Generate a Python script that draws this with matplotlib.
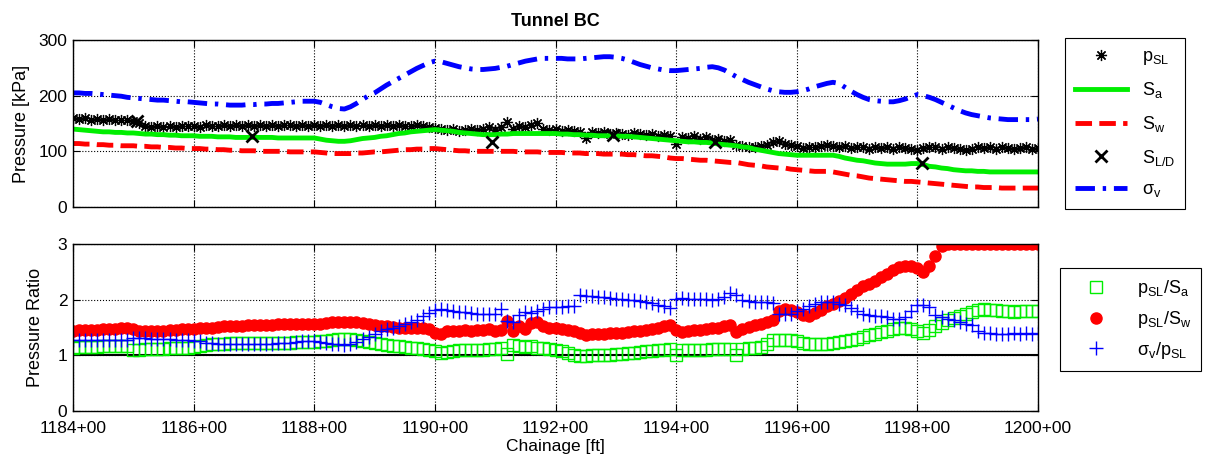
import matplotlib
matplotlib.use('Agg')
import matplotlib.pyplot as plt
import numpy as np

plt.rcParams['font.family'] = ['Liberation Sans', 'DejaVu Sans']
plt.rcParams['mathtext.fontset'] = 'custom'
plt.rcParams['mathtext.rm'] = 'Liberation Sans'
plt.rcParams['mathtext.it'] = 'Liberation Sans'

# chainage stations (in 100 ft units), every 10 ft
station = np.round(np.arange(1184.0, 1200.05, 0.1), 1)

p_sl = [160, 158, 159, 157, 158, 156, 158, 157, 156, 157,
        154, 150, 146, 144, 145, 143, 145, 144, 146, 145,
        146, 144, 147, 145, 146, 148, 146, 147, 145, 147,
        146, 148, 146, 147, 145, 148, 147, 146, 148, 146,
        147, 145, 148, 146, 147, 145, 148, 146, 147, 145,
        147, 146, 148, 145, 147, 146, 145, 147, 146, 144,
        142, 140, 138, 140, 137, 139, 141, 138, 140, 143,
        138, 144, 152, 141, 146, 143, 147, 150, 141, 139,
        140, 137, 139, 136, 134, 124, 135, 133, 134, 131,
        133, 132, 130, 133, 131, 129, 131, 128, 130, 127,
        114, 125, 124, 127, 123, 125, 121, 123, 119, 120,
        112, 110, 108, 107, 109, 111, 117, 118, 114, 111,
        110, 106, 108, 107, 109, 112, 110, 108, 109, 106,
        108, 107, 105, 108, 106, 107, 105, 108, 106, 104,
        103, 106, 108, 107, 105, 108, 106, 104, 102, 105,
        108, 106, 107, 105, 108, 106, 104, 106, 107, 105, 106]

s_a = [140, 139, 138, 137, 136, 135, 135, 134, 134, 133,
       133, 132, 131, 131, 130, 130, 129, 129, 128, 128,
       128, 127, 127, 127, 126, 126, 126, 125, 125, 125,
       125, 125, 125, 125, 124, 124, 124, 124, 124, 124,
       124, 122, 120, 119, 118, 118, 119, 121, 123, 124,
       125, 127, 128, 130, 132, 133, 135, 136, 137, 138,
       139, 138, 137, 136, 134, 133, 132, 131, 130, 130,
       130, 131, 131, 132, 132, 132, 132, 132, 132, 132,
       132, 131, 131, 130, 130, 129, 129, 128, 128, 128,
       128, 127, 127, 126, 125, 124, 123, 122, 121, 120,
       119, 118, 117, 117, 116, 116, 115, 113, 112, 111,
       110, 108, 107, 104, 102, 100, 98, 96, 95, 94,
       93, 93, 93, 93, 93, 93, 93, 91, 88, 86,
       84, 83, 81, 79, 78, 77, 77, 77, 77, 78,
       78, 76, 73, 72, 70, 69, 67, 66, 65, 65,
       64, 64, 63, 63, 63, 63, 63, 63, 63, 63, 63]

s_w = [114, 114, 113, 113, 112, 112, 111, 111, 110, 110,
       110, 109, 109, 108, 108, 107, 107, 106, 106, 105,
       105, 105, 104, 104, 103, 103, 102, 102, 101, 101,
       101, 100, 100, 100, 100, 100, 99, 99, 99, 99,
       99, 98, 97, 96, 96, 96, 96, 97, 97, 98,
       99, 99, 100, 101, 102, 103, 103, 104, 104, 105,
       105, 104, 103, 102, 101, 101, 100, 100, 100, 100,
       100, 100, 100, 100, 99, 99, 99, 99, 98, 98,
       98, 98, 97, 97, 97, 96, 96, 96, 95, 95,
       95, 95, 94, 94, 93, 92, 92, 91, 90, 88,
       87, 87, 86, 85, 84, 84, 83, 82, 81, 80,
       80, 78, 76, 75, 74, 72, 71, 70, 70, 68,
       67, 66, 65, 64, 64, 64, 63, 61, 59, 57,
       56, 54, 52, 51, 50, 49, 48, 47, 46, 46,
       45, 44, 43, 42, 41, 40, 39, 38, 37, 36,
       36, 35, 35, 35, 34, 34, 34, 34, 34, 34, 34]

sigma_v = [205, 205, 204, 204, 203, 202, 201, 200, 199, 197,
           196, 195, 194, 193, 192, 192, 191, 190, 189, 189,
           188, 187, 186, 185, 185, 184, 183, 183, 183, 184,
           184, 185, 185, 186, 186, 187, 188, 189, 190, 190,
           190, 188, 184, 180, 177, 176, 180, 186, 193, 200,
           205, 212, 219, 225, 231, 237, 243, 249, 254, 259,
           262, 261, 258, 255, 252, 250, 248, 247, 247, 248,
           249, 251, 253, 256, 259, 262, 264, 266, 267, 267,
           267, 267, 266, 266, 266, 267, 268, 269, 270, 270,
           269, 267, 264, 260, 256, 253, 250, 248, 246, 245,
           245, 246, 247, 248, 249, 251, 252, 250, 246, 240,
           234, 229, 224, 220, 216, 212, 209, 207, 206, 206,
           207, 209, 212, 216, 219, 222, 224, 222, 215, 208,
           202, 197, 193, 191, 190, 189, 189, 191, 194, 198,
           202, 200, 197, 193, 188, 183, 178, 173, 169, 166,
           164, 162, 160, 159, 158, 157, 157, 157, 157, 157, 158]

# lining design check points
sld_station = [1185.06, 1186.97, 1190.95, 1192.96, 1194.65, 1198.08]
sld_value = [154, 128, 117, 130, 117, 79]

ratio_p_sa = [1.14, 1.15, 1.15, 1.15, 1.15, 1.16, 1.16, 1.16, 1.16, 1.16,
              1.09, 1.10, 1.11, 1.11, 1.12, 1.12, 1.13, 1.13, 1.14, 1.14,
              1.15, 1.17, 1.19, 1.21, 1.21, 1.21, 1.22, 1.22, 1.22, 1.22,
              1.22, 1.23, 1.23, 1.23, 1.23, 1.23, 1.23, 1.24, 1.24, 1.24,
              1.24, 1.25, 1.26, 1.27, 1.29, 1.30, 1.29, 1.27, 1.25, 1.24,
              1.22, 1.20, 1.19, 1.17, 1.16, 1.15, 1.14, 1.14, 1.12, 1.10,
              1.08, 1.05, 1.06, 1.08, 1.09, 1.10, 1.10, 1.10, 1.10, 1.11,
              1.12, 1.14, 1.03, 1.18, 1.16, 1.15, 1.16, 1.14, 1.13, 1.12,
              1.10, 1.07, 1.04, 1.00, 0.98, 0.99, 1.00, 1.00, 1.00, 1.01,
              1.02, 1.03, 1.04, 1.05, 1.06, 1.07, 1.08, 1.09, 1.10, 1.11,
              1.00, 1.09, 1.09, 1.10, 1.10, 1.10, 1.11, 1.11, 1.12, 1.12,
              1.00, 1.12, 1.13, 1.14, 1.15, 1.20, 1.27, 1.28, 1.27, 1.27,
              1.26, 1.22, 1.20, 1.20, 1.20, 1.21, 1.22, 1.24, 1.26, 1.28,
              1.30, 1.33, 1.36, 1.39, 1.42, 1.44, 1.47, 1.49, 1.50, 1.48,
              1.44, 1.40, 1.45, 1.53, 1.58, 1.63, 1.67, 1.71, 1.75, 1.78,
              1.82, 1.83, 1.82, 1.81, 1.80, 1.79, 1.78, 1.79, 1.80, 1.80, 1.80]

ratio_p_sw = [1.44, 1.45, 1.45, 1.46, 1.46, 1.47, 1.48, 1.48, 1.49, 1.49,
              1.48, 1.43, 1.43, 1.44, 1.44, 1.44, 1.45, 1.46, 1.47, 1.47,
              1.48, 1.49, 1.49, 1.50, 1.51, 1.52, 1.52, 1.53, 1.53, 1.54,
              1.54, 1.55, 1.55, 1.55, 1.56, 1.56, 1.56, 1.56, 1.56, 1.57,
              1.57, 1.57, 1.58, 1.59, 1.60, 1.60, 1.60, 1.59, 1.58, 1.57,
              1.55, 1.53, 1.52, 1.51, 1.50, 1.50, 1.50, 1.50, 1.49, 1.48,
              1.40, 1.39, 1.43, 1.44, 1.43, 1.45, 1.44, 1.46, 1.45, 1.47,
              1.44, 1.45, 1.62, 1.43, 1.52, 1.48, 1.58, 1.60, 1.52, 1.50,
              1.50, 1.48, 1.46, 1.44, 1.40, 1.37, 1.38, 1.39, 1.39, 1.40,
              1.41, 1.41, 1.42, 1.43, 1.44, 1.46, 1.48, 1.50, 1.52, 1.54,
              1.45, 1.42, 1.44, 1.45, 1.46, 1.48, 1.49, 1.50, 1.52, 1.54,
              1.42, 1.47, 1.51, 1.54, 1.57, 1.60, 1.64, 1.80, 1.83, 1.82,
              1.77, 1.72, 1.70, 1.76, 1.82, 1.88, 1.93, 1.98, 2.03, 2.10,
              2.17, 2.24, 2.29, 2.34, 2.40, 2.47, 2.54, 2.58, 2.60, 2.61,
              2.56, 2.50, 2.60, 2.78, 2.97, 3.00, 3.00, 3.00, 3.00, 3.00,
              3.00, 3.00, 3.00, 3.00, 3.00, 3.00, 3.00, 3.00, 3.00, 3.00, 3.00]

ratio_sv_p = [1.27, 1.28, 1.28, 1.27, 1.28, 1.27, 1.28, 1.27, 1.27, 1.27,
              1.31, 1.32, 1.31, 1.30, 1.30, 1.30, 1.29, 1.28, 1.28, 1.27,
              1.26, 1.25, 1.23, 1.22, 1.21, 1.20, 1.20, 1.20, 1.20, 1.20,
              1.20, 1.20, 1.21, 1.21, 1.22, 1.22, 1.23, 1.24, 1.25, 1.26,
              1.26, 1.24, 1.22, 1.21, 1.20, 1.19, 1.20, 1.24, 1.29, 1.33,
              1.38, 1.43, 1.47, 1.50, 1.53, 1.56, 1.60, 1.64, 1.70, 1.76,
              1.81, 1.83, 1.82, 1.80, 1.78, 1.77, 1.76, 1.75, 1.74, 1.74,
              1.74, 1.83, 1.62, 1.60, 1.72, 1.78, 1.76, 1.80, 1.84, 1.87,
              1.86, 1.87, 1.88, 1.89, 2.08, 2.07, 2.06, 2.05, 2.04, 2.03,
              2.02, 2.01, 2.00, 1.99, 1.98, 1.96, 1.94, 1.91, 1.88, 1.85,
              2.02, 2.03, 2.02, 2.02, 2.01, 2.01, 2.00, 2.02, 2.05, 2.12,
              2.08, 2.00, 1.97, 1.96, 1.95, 1.95, 1.94, 1.75, 1.74, 1.74,
              1.80, 1.84, 1.89, 1.93, 1.95, 1.96, 1.95, 1.93, 1.90, 1.85,
              1.80, 1.75, 1.73, 1.71, 1.70, 1.68, 1.66, 1.66, 1.69, 1.80,
              1.90, 1.91, 1.87, 1.73, 1.69, 1.66, 1.63, 1.60, 1.57, 1.54,
              1.44, 1.41, 1.40, 1.39, 1.39, 1.39, 1.40, 1.39, 1.40, 1.39, 1.40]

xticks = list(range(1184, 1201, 2))
xticklabels = ['%d+00' % t for t in xticks]

W, H = 1208, 458
fig = plt.figure(figsize=(W / 100, H / 100), dpi=100)

ax1 = fig.add_axes([73 / W, 1 - 207 / H, 965 / W, 167 / H])
ax2 = fig.add_axes([73 / W, 1 - 411 / H, 965 / W, 167 / H])

# top panel: pressures
ax1.plot(station, p_sl, marker=(8, 2, 0), ls='none', color='k', markersize=8, markeredgewidth=0.9,
         label=r'$\mathregular{p_{SL}}$')
ax1.plot(station, s_a, '-', color='#00ee00', lw=3.5, label=r'$\mathregular{S_a}$')
ax1.plot(station, s_w, '--', color='#ff0000', lw=3.5, dashes=(3.4, 1.5), label=r'$\mathregular{S_w}$')
ax1.plot(sld_station, sld_value, 'x', color='k', markersize=9, markeredgewidth=2, zorder=5,
         label=r'$\mathregular{S_{L/D}}$')
ax1.plot(station, sigma_v, '-.', color='#0000ff', lw=3.5, dashes=(4, 1.6, 0.7, 1.6), label=r'$\mathregular{\sigma_v}$')

ax1.set_xlim(1184, 1200)
ax1.set_ylim(0, 300)
ax1.set_yticks([0, 100, 200, 300])
ax1.set_xticks(xticks)
ax1.set_xticklabels([])
ax1.set_ylabel('Pressure [kPa]', fontsize=13, labelpad=6)
ax1.set_title('Tunnel BC', fontsize=13, fontweight='bold', pad=10)

# bottom panel: ratios
ax2.axhline(1, color='k', lw=1.5, zorder=1)
ax2.plot(station, ratio_p_sa, 's', color='#00ee00', mfc='none', markersize=8, markeredgewidth=1,
         label=r'$\mathregular{p_{SL}/S_a}$')
ax2.plot(station, ratio_p_sw, 'o', color='#ff0000', markersize=8, label=r'$\mathregular{p_{SL}/S_w}$')
ax2.plot(station, ratio_sv_p, '+', color='#0000ff', markersize=10, markeredgewidth=1,
         label=r'$\mathregular{\sigma_v/p_{SL}}$')

ax2.set_xlim(1184, 1200)
ax2.set_ylim(0, 3)
ax2.set_yticks([0, 1, 2, 3])
ax2.set_xticks(xticks)
ax2.set_xticklabels(xticklabels)
ax2.set_ylabel('Pressure Ratio', fontsize=13, labelpad=10)
ax2.set_xlabel('Chainage [ft]', fontsize=12.5, labelpad=2)

for ax in (ax1, ax2):
    ax.grid(True, linestyle=':', color='k', lw=0.8)
    ax.tick_params(direction='in', top=True, right=True, labelsize=12.5, length=5)
    ax.tick_params(axis='x', pad=7)
    ax.tick_params(axis='y', pad=4)
    for sp in ax.spines.values():
        sp.set_linewidth(1.0)

leg1 = ax1.legend(loc='upper left', bbox_to_anchor=(1065 / W, 1 - 38 / H), bbox_transform=fig.transFigure,
                  borderaxespad=0, fancybox=False, edgecolor='k', fontsize=13, handlelength=2.9,
                  labelspacing=0.75, borderpad=0.55, framealpha=1)
leg1.get_frame().set_linewidth(0.8)
leg2 = ax2.legend(loc='upper left', bbox_to_anchor=(1060 / W, 1 - 268 / H), bbox_transform=fig.transFigure,
                  borderaxespad=0, fancybox=False, edgecolor='k', fontsize=13, handlelength=2.9,
                  labelspacing=0.55, borderpad=0.55, framealpha=1)
leg2.get_frame().set_linewidth(0.8)

fig.savefig('out.png', dpi=100)
